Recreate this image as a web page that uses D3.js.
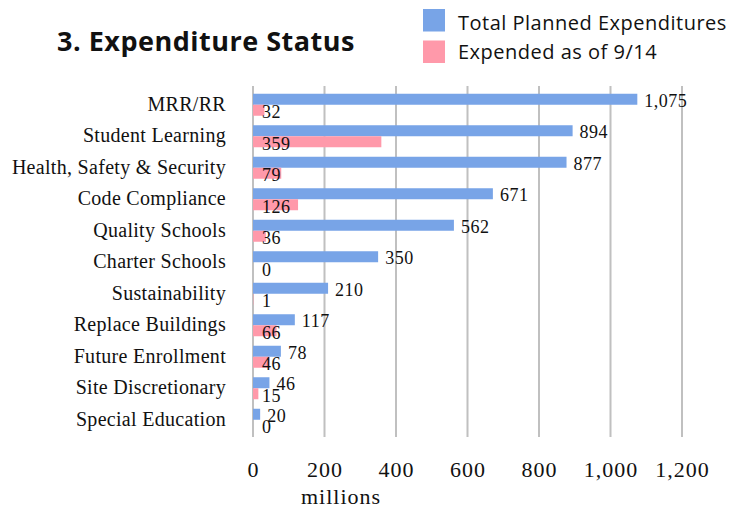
<!DOCTYPE html>
<html>
<head>
<meta charset="utf-8">
<script src="https://cdn.jsdelivr.net/npm/d3@7"></script>
<style>
  body { margin: 0; background: #fff; }
  svg { display: block; }
</style>
</head>
<body>
<script>
const categories = ["MRR/RR", "Student Learning", "Health, Safety & Security", "Code Compliance",
  "Quality Schools", "Charter Schools", "Sustainability", "Replace Buildings",
  "Future Enrollment", "Site Discretionary", "Special Education"];
const planned = [1075, 894, 877, 671, 562, 350, 210, 117, 78, 46, 20];
const expended = [32, 359, 79, 126, 36, 0, 1, 66, 46, 15, 0];
const seriesNames = ["Total Planned Expenditures", "Expended as of 9/14"];
const xTicks = [0, 200, 400, 600, 800, 1000, 1200];

(function () {
const width = 743, height = 510;
const blue = "#78a4e7", pink = "#ff99aa";
const serif = "'Liberation Serif', 'Times New Roman', serif";
const sans = "'Open Sans', Lato, sans-serif";

const svg = d3.select("body").append("svg")
  .attr("width", width)
  .attr("height", height);

const x = d3.scaleLinear().domain([0, 1200]).range([253, 682]);
const y = d3.scaleBand().domain(categories).range([89, 435.5]).paddingInner(0.3).paddingOuter(0.15);
const bh = 11;

// title
svg.append("text")
  .attr("x", 57).attr("y", 51)
  .attr("font-family", sans)
  .attr("font-weight", "bold")
  .attr("font-size", 27)
  .attr("letter-spacing", 0.5)
  .attr("fill", "#111")
  .text("3. Expenditure Status");

// legend
const legend = svg.append("g").attr("transform", "translate(423,9)");
seriesNames.forEach((name, i) => {
  legend.append("rect")
    .attr("x", 0).attr("y", i * 31.5)
    .attr("width", 22).attr("height", 22.5)
    .attr("fill", i === 0 ? blue : pink);
  legend.append("text")
    .attr("x", 35).attr("y", i * 28.5 + 21)
    .attr("font-family", sans)
    .attr("font-size", 20)
    .attr("letter-spacing", 0.5)
    .attr("fill", "#111")
    .text(name);
});

// gridlines
svg.append("g")
  .selectAll("line")
  .data(xTicks)
  .join("line")
  .attr("x1", d => x(d)).attr("x2", d => x(d))
  .attr("y1", 86).attr("y2", 437)
  .attr("stroke", "#c0c0c0")
  .attr("stroke-width", 2);

// x tick labels
svg.append("g")
  .selectAll("text")
  .data(xTicks)
  .join("text")
  .attr("x", d => x(d) + 0.5)
  .attr("y", 477)
  .attr("text-anchor", "middle")
  .attr("font-family", serif)
  .attr("font-size", 22)
  .attr("letter-spacing", 1)
  .attr("fill", "#111")
  .text(d => d3.format(",")(d));

svg.append("text")
  .attr("x", 341).attr("y", 504)
  .attr("text-anchor", "middle")
  .attr("font-family", serif)
  .attr("font-size", 22)
  .attr("letter-spacing", 1)
  .attr("fill", "#111")
  .text("millions");

// category labels
svg.append("g")
  .selectAll("text")
  .data(categories)
  .join("text")
  .attr("x", 226)
  .attr("y", d => y(d) + y.bandwidth() / 2 + 6)
  .attr("text-anchor", "end")
  .attr("font-family", serif)
  .attr("font-size", 20)
  .attr("letter-spacing", 0.3)
  .attr("fill", "#111")
  .text(d => d);

const rows = categories.map((c, i) => ({ c, p: planned[i], e: expended[i] }));
const barTop = d => y(d.c) + y.bandwidth() / 2 - bh;

const bars = svg.append("g");
bars.selectAll(".planned")
  .data(rows)
  .join("rect")
  .attr("class", "planned")
  .attr("x", x(0))
  .attr("y", d => barTop(d))
  .attr("width", d => x(d.p) - x(0))
  .attr("height", bh)
  .attr("fill", blue);

bars.selectAll(".expended")
  .data(rows)
  .join("rect")
  .attr("class", "expended")
  .attr("x", x(0))
  .attr("y", d => barTop(d) + bh)
  .attr("width", d => x(d.e) - x(0))
  .attr("height", bh)
  .attr("fill", pink);

// value labels
const labels = svg.append("g")
  .attr("font-family", serif)
  .attr("font-size", 18)
  .attr("letter-spacing", 0.5)
  .attr("fill", "#111");

labels.selectAll(".pl")
  .data(rows)
  .join("text")
  .attr("class", "pl")
  .attr("x", d => x(d.p) + 7)
  .attr("y", d => barTop(d) + 13)
  .text(d => d3.format(",")(d.p));

labels.selectAll(".el")
  .data(rows)
  .join("text")
  .attr("class", "el")
  .attr("x", x(0) + 9)
  .attr("y", d => barTop(d) + 24.5)
  .text(d => d3.format(",")(d.e));
}());
</script>
</body>
</html>
